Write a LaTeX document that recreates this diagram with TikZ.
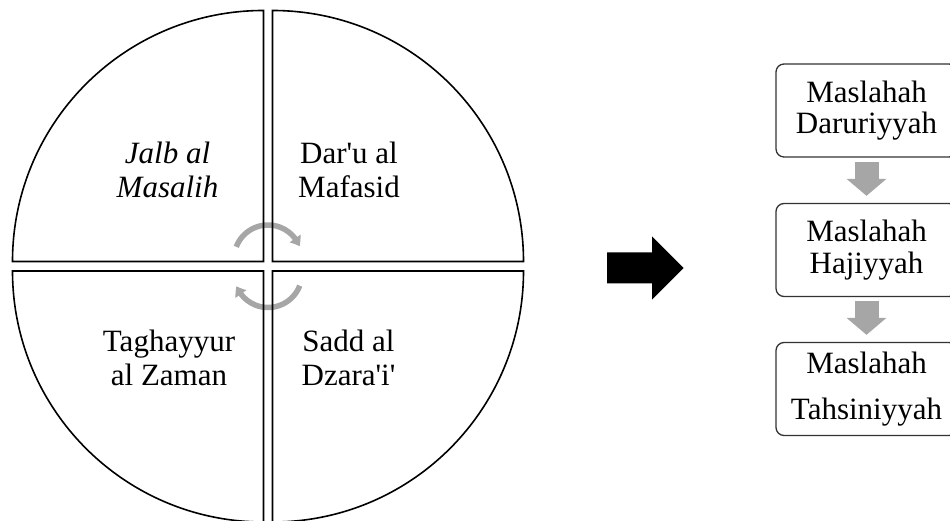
\documentclass[tikz,border=0pt]{standalone}
\usepackage{fontspec}
\setmainfont{Liberation Serif}[Ligatures=TeXOff]
\usetikzlibrary{arrows.meta,bending}
\definecolor{arrowgray}{HTML}{A6A6A6}
\definecolor{boxline}{HTML}{333333}
\begin{document}
\begin{tikzpicture}[x=1pt,y=1pt,
  quad/.style={draw=black, line width=1.6pt},
  qtext/.style={align=center, font=\fontsize{31}{34}\selectfont, inner sep=0pt},
  mbox/.style={draw=boxline, line width=1.3pt, rounded corners=8pt, minimum width=181pt, minimum height=93pt, align=center, inner sep=0pt, font=\fontsize{31}{31.7}\selectfont},
  cyc/.style={draw=arrowgray, line width=5.5pt, -{Triangle[bend,length=9pt,width=13pt]}},
  downarrow/.style={draw=arrowgray, line width=24pt, -{Triangle[length=17pt,width=39pt]}, shorten <=4pt, shorten >=7pt},
  bigarrow/.style={fill=black, draw=none}
]
\useasboundingbox (0,0) rectangle (950,521);
\clip (0,0) rectangle (950,521);

% circular arrows
\coordinate (ct) at (268,262);
\coordinate (cb) at (268,247.5);
\draw[cyc] ([shift={(159:34)}]ct) arc[start angle=159, end angle=22, radius=34];
\draw[cyc] ([shift={(-21:34)}]cb) arc[start angle=-21, end angle=-158, radius=34];

% quadrants
\draw[quad] (263.5,259.5) -- ++(-251,0) arc[start angle=180, end angle=90, radius=251] -- cycle;
\draw[quad] (272.5,259.5) -- ++(0,251) arc[start angle=90, end angle=0, radius=251] -- cycle;
\draw[quad] (263.5,250) -- ++(-251,0) arc[start angle=180, end angle=270, radius=251] -- cycle;
\draw[quad] (272.5,250) -- ++(251,0) arc[start angle=0, end angle=-90, radius=251] -- cycle;

% quadrant texts
\node[qtext] (q1) at (167.5,351.4) {\itshape Jalb al\\\itshape Masalih};
\node[qtext] (q2) at (349,351.4) {Dar'u al\\Mafasid};
\node[qtext] (q3) at (169,163) {Taghayyur\\al Zaman};
\node[qtext] (q4) at (348.5,163) {Sadd al\\Dzara'i'};

% big black arrow
\fill[bigarrow] (607,268.5) -- (652,268.5) -- (652,284.6) -- (683.5,253) -- (652,221.4) -- (652,237.5) -- (607,237.5) -- cycle;

% boxes
\node[mbox] (b1) at (866.5,410.5) {Maslahah\\Daruriyyah};
\node[mbox] (b2) at (866.5,271) {Maslahah\\Hajiyyah};
\node[mbox] (b3) at (866.5,132) {Maslahah\\[14pt]Tahsiniyyah};

\draw[downarrow] (b1) -- (b2);
\draw[downarrow] (b2) -- (b3);
\end{tikzpicture}
\end{document}
